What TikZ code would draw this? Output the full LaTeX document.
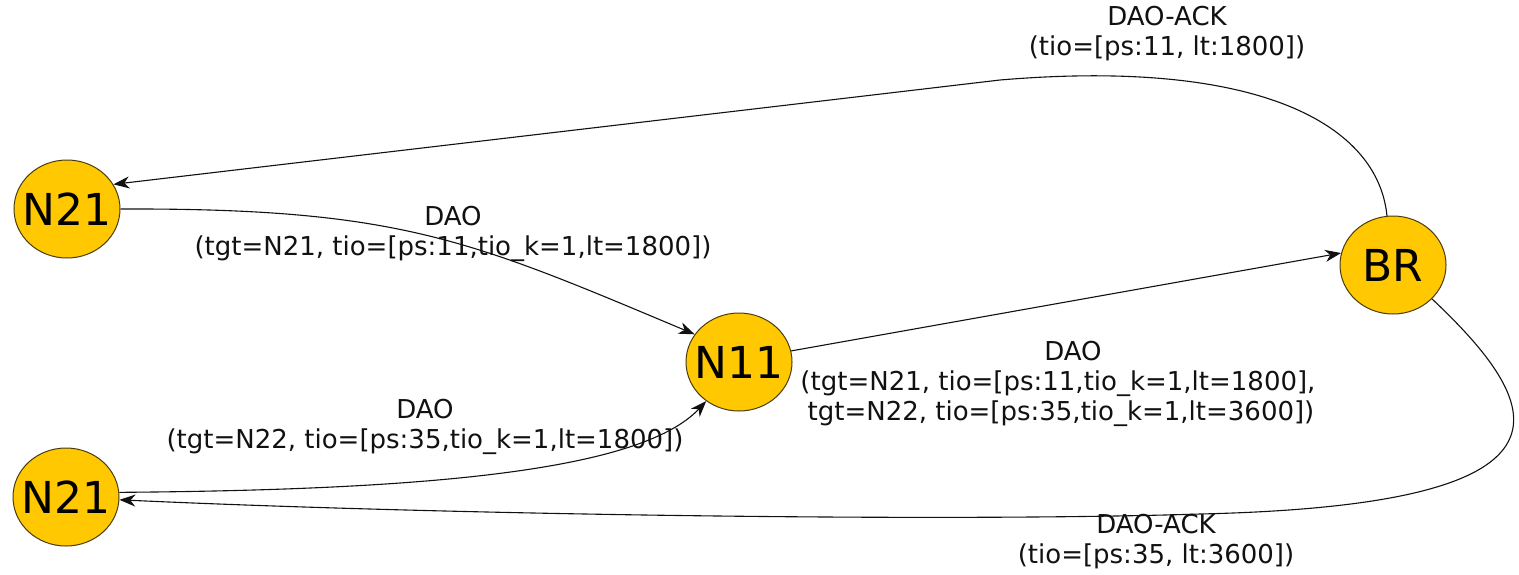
\documentclass[tikz,border=0pt]{standalone}
\usepackage{fontspec}
\setmainfont{DejaVu Sans}
\usepackage{tikz}
\usetikzlibrary{shapes.geometric, arrows.meta}
\definecolor{Gold}{HTML}{FFC800}
\definecolor{Rim}{HTML}{4A3C10}
\definecolor{Ink}{HTML}{111111}
\tikzset{
    mote/.style={ellipse, draw=Rim, line width=0.5pt, fill=Gold,
                 minimum width=53pt, minimum height=49pt,
                 inner xsep=-6pt, inner ysep=0pt,
                 font=\fontsize{22}{24}\selectfont},
    msg/.style={align=center, text=Ink, inner sep=0pt,
                font=\fontsize{13}{15}\selectfont},
    flow/.style={draw=Ink, line width=0.55pt,
                 -{Stealth[length=8pt, width=6pt, inset=2.5pt]}}
}

\begin{document}
\begin{tikzpicture}[x=0.5pt, y=-0.5pt]
    \useasboundingbox (0,0) rectangle (1519,574);

    % Motes
    \node[mote] (n21a) at (67,209)   {N21};
    \node[mote] (n21b) at (66,497)   {N21};
    \node[mote] (n11)  at (739,362)  {N11};
    \node[mote] (br)   at (1393,265) {BR};

    % Upward DAOs
    \draw[flow] (n21a.east) .. controls (400,208) and (470,240) .. (n11.148);
    \draw[flow] (n21b.5) .. controls (420,490) and (640,472) .. (n11.230);
    \draw[flow] (n11.12) -- (br.167);

    % DAO-ACKs back down
    \draw[flow] (br.97) .. controls (1378,125) and (1260,58) .. (1000,80)
        -- (n21a.28);
    \draw[flow] (br.-41) .. controls (1550,410) and (1590,505) .. (1200,514)
        .. controls (950,522) and (450,515) .. (n21b.-3);

    % Messages
    \node[msg] (m1) at (453,234) {DAO\\(tgt=N21, tio=[ps:11,tio\_k=1,lt=1800])};
    \node[msg] (m2) at (425,427) {DAO\\(tgt=N22, tio=[ps:35,tio\_k=1,lt=1800])};
    \node[msg] (m3) at (1058,384) {\hspace*{15pt}DAO\\(tgt=N21, tio=[ps:11,tio\_k=1,lt=1800],\\
        \hspace*{3pt}tgt=N22, tio=[ps:35,tio\_k=1,lt=3600])};
    \node[msg] (m4) at (1167,34) {DAO-ACK\\(tio=[ps:11, lt:1800])};
    \node[msg] (m5) at (1156,542) {DAO-ACK\\(tio=[ps:35, lt:3600])};
\end{tikzpicture}
\end{document}
